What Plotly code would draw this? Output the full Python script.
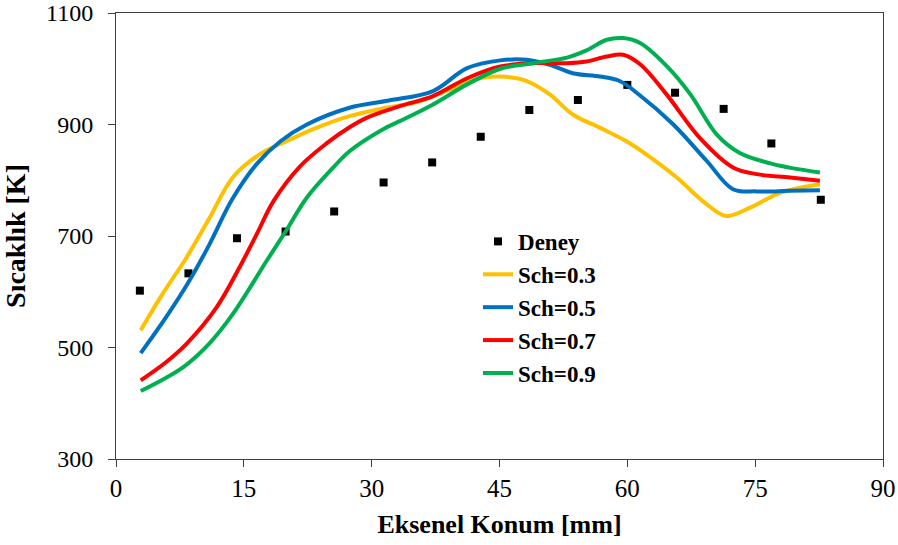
import plotly.graph_objects as go

# Experimental measurements
deney_x = [2.8, 8.5, 14.2, 19.9, 25.6, 31.4, 37.1, 42.8, 48.5, 54.2, 60.0, 65.6, 71.3, 76.9, 82.7]
deney_y = [602, 633, 696, 708, 744, 796, 832, 878, 926, 944, 971, 957, 928, 866, 765]

# Simulated profiles for each turbulent Schmidt number
sch03_x = [2.9, 5.5, 8.3, 11.0, 13.7, 16.9, 20.0, 23.5, 27.4, 31.4, 35.3, 39.2, 42.7, 45.1,
           48.2, 50.9, 53.6, 56.8, 59.9, 63.0, 65.8, 69.3, 71.6, 74.4, 78.0, 82.6]
sch03_y = [531, 597, 662, 733, 805, 847, 870, 894, 915, 929, 940, 963, 983, 986,
           978, 954, 918, 894, 870, 838, 805, 757, 736, 751, 778, 793]

sch05_x = [2.9, 5.9, 8.5, 11.0, 13.6, 16.5, 19.3, 22.4, 27.4, 32.0, 37.2, 41.2, 45.1, 48.2,
           50.9, 53.6, 56.8, 59.1, 61.5, 65.4, 69.3, 72.4, 75.2, 79.1, 82.6]
sch05_y = [490, 555, 617, 686, 765, 829, 870, 900, 930, 943, 960, 1001, 1015, 1016,
           1007, 992, 986, 978, 952, 900, 835, 784, 780, 781, 782]

sch07_x = [2.9, 5.9, 8.3, 11.8, 14.5, 16.5, 18.5, 21.6, 24.7, 27.4, 29.4, 33.3, 37.2, 41.2,
           45.1, 48.9, 52.9, 55.2, 57.6, 59.5, 61.5, 64.6, 68.5, 72.4, 75.2, 79.1, 82.6]
sch07_y = [441, 474, 507, 572, 644, 703, 763, 825, 866, 895, 912, 933, 951, 983,
           1004, 1010, 1010, 1013, 1022, 1025, 1008, 954, 876, 823, 811, 805, 799]

sch09_x = [2.9, 7.9, 11.0, 13.8, 17.7, 19.9, 22.4, 25.5, 27.4, 31.4, 33.3, 37.2, 41.2, 45.1,
           48.9, 52.9, 55.2, 57.6, 59.5, 61.5, 64.6, 67.4, 70.5, 73.2, 77.1, 82.6]
sch09_y = [422, 465, 508, 562, 656, 708, 769, 823, 852, 892, 906, 936, 972, 1000,
           1010, 1020, 1033, 1052, 1055, 1046, 1005, 954, 882, 849, 829, 814]

series = [
    ("Sch=0.3", sch03_x, sch03_y, "#FFC000"),
    ("Sch=0.5", sch05_x, sch05_y, "#0070C0"),
    ("Sch=0.7", sch07_x, sch07_y, "#FF0000"),
    ("Sch=0.9", sch09_x, sch09_y, "#00B050"),
]

x_ticks = [0, 15, 30, 45, 60, 75, 90]
y_ticks = [300, 500, 700, 900, 1100]

serif = "Liberation Serif, Times New Roman, serif"

fig = go.Figure()

fig.add_trace(go.Scatter(
    x=deney_x, y=deney_y, mode="markers", name="Deney",
    marker=dict(symbol="square", size=8, color="black"),
))

for name, xs, ys, color in series:
    fig.add_trace(go.Scatter(
        x=xs, y=ys, mode="lines", name=name,
        line=dict(color=color, width=4, shape="spline", smoothing=1.0),
    ))

fig.update_layout(
    width=898, height=545,
    margin=dict(l=116, r=15, t=13, b=86),
    paper_bgcolor="white", plot_bgcolor="white",
    font=dict(family=serif, color="black"),
    showlegend=True,
    legend=dict(
        x=0.472, y=0.536, xanchor="left", yanchor="top",
        font=dict(family=serif, size=23, color="black", weight="bold"),
        bgcolor="rgba(0,0,0,0)", tracegroupgap=0, itemwidth=30,
    ),
)

fig.update_xaxes(
    range=[0, 90], tickvals=x_ticks, ticktext=[str(v) for v in x_ticks],
    showgrid=False, zeroline=False, automargin=False,
    showline=True, linecolor="#404040", linewidth=1, mirror=True,
    ticks="outside", ticklen=7, tickcolor="#404040",
    tickfont=dict(family=serif, size=25, color="black"),
    ticklabeloverflow="allow",
    title=dict(text="<b>Eksenel Konum [mm]</b>", standoff=13,
               font=dict(family=serif, size=26, color="black")),
)

fig.update_yaxes(
    range=[300, 1100], tickvals=y_ticks, ticktext=[str(v) for v in y_ticks],
    showgrid=False, zeroline=False, automargin=False,
    showline=True, linecolor="#404040", linewidth=1, mirror=True,
    ticks="outside", ticklen=7, tickcolor="#404040",
    tickfont=dict(family=serif, size=24, color="black"),
    ticklabelstandoff=10, ticklabeloverflow="allow",
    title=dict(text="<b>Sıcaklık [K]</b>", standoff=15,
               font=dict(family=serif, size=28, color="black")),
)

fig.write_html("out.html")
